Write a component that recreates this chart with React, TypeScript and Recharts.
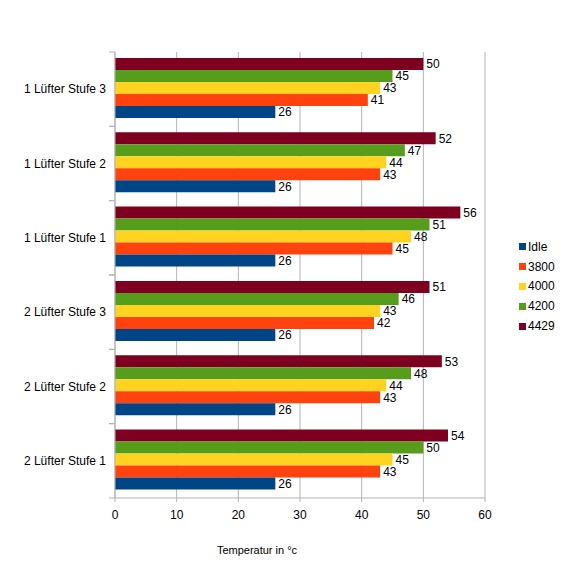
import React from 'react';
import { BarChart, Bar, XAxis, YAxis, CartesianGrid, LabelList, Label } from 'recharts';

const categories = [
  '1 Lüfter Stufe 3',
  '1 Lüfter Stufe 2',
  '1 Lüfter Stufe 1',
  '2 Lüfter Stufe 3',
  '2 Lüfter Stufe 2',
  '2 Lüfter Stufe 1',
];
const idle = [26, 26, 26, 26, 26, 26];
const s3800 = [41, 43, 45, 42, 43, 43];
const s4000 = [43, 44, 48, 43, 44, 45];
const s4200 = [45, 47, 51, 46, 48, 50];
const s4429 = [50, 52, 56, 51, 53, 54];
const xTicks = [0, 10, 20, 30, 40, 50, 60];

const series = [
  { key: 'Idle', color: '#004586' },
  { key: '3800', color: '#ff420e' },
  { key: '4000', color: '#ffd320' },
  { key: '4200', color: '#579d1c' },
  { key: '4429', color: '#7e0021' },
];

const data = categories.map((name, i) => ({
  name,
  Idle: idle[i],
  '3800': s3800[i],
  '4000': s4000[i],
  '4200': s4200[i],
  '4429': s4429[i],
}));

const W = 563;
const H = 570;
const TOP = 52;
const BOTTOM = 498;
const BAND = (BOTTOM - TOP) / categories.length;
const FONT = '"Liberation Sans", Arial, sans-serif';
const GRID = '#b3b3b3';

function CategoryTick(props: any) {
  const { x, y, payload } = props;
  return (
    <g>
      <line x1={x - 6} x2={x} y1={y - BAND / 2} y2={y - BAND / 2} stroke={GRID} />
      <line x1={x - 6} x2={x} y1={y + BAND / 2} y2={y + BAND / 2} stroke={GRID} />
      <text x={x - 9} y={y} dy={4} textAnchor="end" fontSize={12} fill="#000" fontFamily={FONT}>
        {payload.value}
      </text>
    </g>
  );
}

function LegendBox() {
  return (
    <div
      style={{
        position: 'absolute',
        left: 519,
        top: 237,
        fontFamily: FONT,
        fontSize: 12,
        color: '#000',
        lineHeight: 'normal',
      }}
    >
      {series.map((s) => (
        <div key={s.key} style={{ display: 'flex', alignItems: 'center', height: 19.8 }}>
          <span style={{ width: 7, height: 7, background: s.color, marginRight: 2, display: 'inline-block' }} />
          <span>{s.key}</span>
        </div>
      ))}
    </div>
  );
}

export default function App() {
  const drawOrder = [...series].reverse();
  return (
    <div style={{ position: 'absolute', left: 0, top: 0, width: W, height: H, background: '#fff' }}>
      <BarChart
        width={W}
        height={H}
        data={data}
        layout="vertical"
        margin={{ top: TOP, right: W - 485, bottom: 0, left: 0 }}
        barCategoryGap="8%"
        barGap={0}
      >
        <CartesianGrid horizontal={false} stroke={GRID} />
        <XAxis
          type="number"
          domain={[0, 60]}
          ticks={xTicks}
          height={H - BOTTOM}
          axisLine={{ stroke: GRID }}
          tickLine={{ stroke: GRID }}
          tickSize={4}
          tickMargin={8}
          tick={{ fontSize: 12, fill: '#000', fontFamily: FONT }}
        >
          <Label
            value="Temperatur in °c"
            position="insideBottom"
            offset={16}
            dx={-43}
            style={{ fontSize: 11, fill: '#000', fontFamily: FONT }}
          />
        </XAxis>
        <XAxis
          xAxisId="top"
          type="number"
          orientation="top"
          domain={[0, 60]}
          height={0}
          tick={false}
          tickLine={false}
          axisLine={{ stroke: GRID }}
        />
        <YAxis
          type="category"
          dataKey="name"
          width={115}
          axisLine={{ stroke: GRID }}
          tickLine={false}
          tickSize={0}
          tickMargin={0}
          tick={<CategoryTick />}
          interval={0}
        />
        {drawOrder.map((s) => (
          <Bar key={s.key} dataKey={s.key} fill={s.color} isAnimationActive={false}>
            <LabelList
              dataKey={s.key}
              position="right"
              offset={3}
              style={{ fontSize: 12, fill: '#000', fontFamily: FONT }}
            />
          </Bar>
        ))}
      </BarChart>
      <LegendBox />
    </div>
  );
}
